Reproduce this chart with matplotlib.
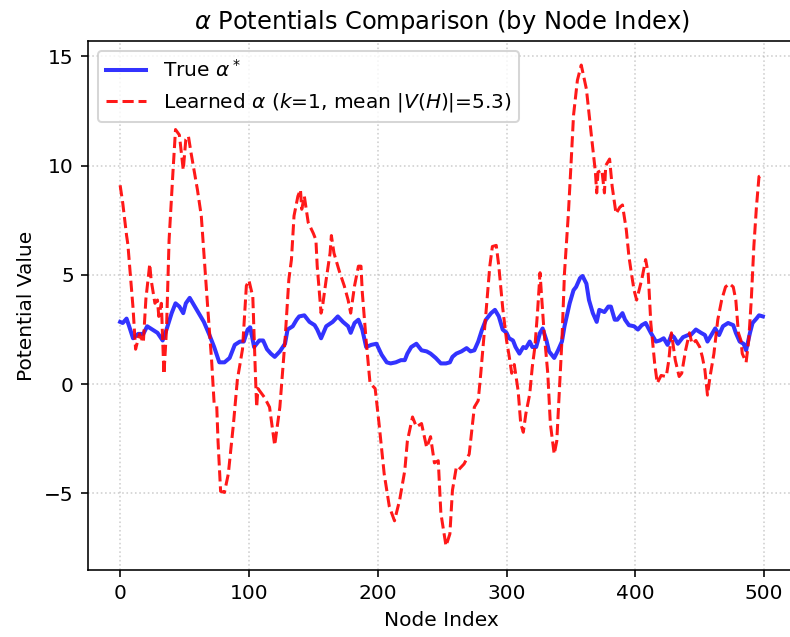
import numpy as np
import matplotlib
matplotlib.use('Agg')
import matplotlib.pyplot as plt

# Values (node index, potential)
true_idx = [0, 2, 5, 7, 10, 14, 18, 21, 25, 29, 33, 36, 40, 43, 46, 49, 51, 54, 58, 61,
            65, 69, 73, 77, 81, 85, 89, 93, 96, 99, 101, 104, 108, 111, 114, 117, 120, 124, 128, 130,
            134, 137, 139, 143, 147, 151, 153, 156, 160, 165, 169, 173, 177, 179, 182, 185, 188, 191, 195, 199,
            203, 207, 210, 214, 218, 221, 223, 226, 230, 234, 238, 241, 245, 249, 253, 256, 258, 261, 265, 269,
            272, 275, 278, 281, 284, 288, 291, 294, 297, 300, 302, 305, 307, 310, 313, 315, 318, 320, 323, 326,
            328, 331, 333, 337, 340, 343, 345, 349, 352, 354, 357, 359, 362, 364, 367, 370, 372, 376, 379, 381,
            384, 386, 390, 392, 395, 399, 402, 405, 408, 412, 416, 419, 422, 425, 428, 430, 433, 437, 441, 443,
            447, 451, 454, 456, 459, 462, 465, 468, 472, 476, 478, 481, 484, 486, 489, 491, 494, 496, 499]
true_val = [2.85, 2.8, 3.0, 2.65, 2.1, 2.3, 2.3, 2.65, 2.5, 2.35, 2.0, 2.5, 3.25, 3.7, 3.55, 3.25, 3.7, 3.95, 3.55, 3.25,
            2.85, 2.3, 1.7, 1.0, 1.0, 1.2, 1.8, 1.95, 1.95, 2.5, 2.6, 1.7, 2.0, 2.0, 1.6, 1.4, 1.25, 1.5, 1.85, 2.5,
            2.65, 2.95, 3.1, 3.15, 2.85, 2.7, 2.5, 2.1, 2.65, 2.85, 3.1, 2.85, 2.65, 2.35, 2.8, 2.95, 2.5, 1.7, 1.8, 1.85,
            1.35, 1.0, 0.95, 1.0, 1.1, 1.1, 1.4, 1.7, 1.85, 1.55, 1.5, 1.4, 1.2, 0.95, 0.95, 1.0, 1.25, 1.4, 1.5, 1.65,
            1.5, 1.55, 1.95, 2.5, 2.95, 3.25, 3.4, 3.1, 2.5, 2.35, 2.1, 2.0, 1.7, 1.4, 1.7, 1.65, 1.95, 1.7, 1.7, 2.35,
            2.55, 2.0, 1.5, 1.2, 1.55, 1.95, 2.65, 3.7, 4.3, 4.45, 4.85, 4.95, 4.6, 3.85, 3.25, 2.85, 3.4, 3.3, 3.55, 3.55,
            2.95, 2.95, 3.25, 2.95, 2.7, 2.65, 2.5, 2.7, 2.8, 2.35, 1.95, 2.0, 2.1, 1.8, 2.25, 2.15, 1.85, 2.15, 2.25, 2.25,
            2.5, 2.35, 2.25, 1.95, 2.25, 2.55, 2.25, 2.65, 2.8, 2.7, 2.35, 1.95, 1.85, 1.55, 2.35, 2.8, 3.0, 3.15, 3.1]

learned_idx = [0, 2, 5, 6, 10, 12, 15, 18, 20, 23, 24, 27, 29, 30, 32, 34, 36, 38, 41, 43,
               46, 49, 51, 53, 55, 60, 63, 65, 68, 71, 73, 75, 76, 78, 81, 84, 88, 91, 95, 98,
               100, 103, 105, 106, 107, 112, 116, 120, 124, 128, 131, 133, 135, 138, 140, 141, 143, 146, 150, 152,
               153, 156, 157, 160, 163, 164, 166, 170, 174, 177, 179, 182, 185, 187, 188, 191, 194, 198, 201, 205,
               209, 213, 217, 221, 223, 227, 230, 234, 238, 241, 244, 247, 249, 253, 256, 258, 261, 263, 267, 271,
               275, 278, 280, 284, 287, 289, 292, 294, 297, 300, 302, 304, 306, 309, 311, 313, 315, 318, 320, 322,
               324, 326, 327, 329, 332, 334, 337, 339, 341, 343, 345, 348, 350, 352, 355, 358, 362, 366, 369, 370,
               371, 374, 376, 377, 380, 382, 385, 388, 390, 393, 395, 397, 399, 401, 405, 408, 410, 412, 415, 417,
               420, 424, 426, 428, 431, 434, 436, 439, 442, 444, 447, 450, 452, 454, 456, 458, 461, 464, 467, 470,
               473, 476, 478, 480, 482, 483, 486, 488, 490, 492, 494, 496, 499]
learned_val = [9.1, 8.3, 6.8, 6.4, 3.5, 1.6, 2.3, 1.9, 3.9, 5.5, 4.8, 3.7, 3.85, 3.1, 3.7, 0.45, 2.5, 6.6, 9.7, 11.65,
               11.4, 9.8, 11.2, 11.35, 10.6, 8.9, 7.7, 6.0, 3.5, 1.1, -0.9, -1.0, -2.6, -4.9, -4.95, -4.1, -1.8, 0.2, 1.6, 4.5,
               4.75, 4.0, 0.5, -1.05, -0.2, -0.6, -1.05, -2.8, -1.05, 2.0, 4.8, 5.7, 7.7, 8.6, 8.9, 8.0, 8.6, 7.4, 6.9, 6.6,
               5.4, 3.25, 3.5, 4.8, 6.0, 6.8, 6.0, 5.2, 4.5, 3.85, 3.25, 4.5, 5.4, 5.4, 4.2, 2.0, 0.05, -0.2, -1.8, -4.1,
               -5.6, -6.25, -5.3, -3.95, -2.6, -1.5, -1.95, -1.8, -2.9, -2.4, -3.6, -3.5, -5.9, -7.4, -6.85, -4.85, -3.8, -3.9, -3.65, -3.2,
               -1.05, -0.75, 0.5, 3.25, 5.4, 6.3, 6.35, 5.4, 3.5, 2.0, 1.3, 0.5, 0.9, -0.3, -1.8, -2.2, -1.35, -0.45, 0.8, 1.7,
               3.25, 5.1, 4.2, 2.5, 0.5, -1.8, -3.2, -2.6, -0.3, 2.0, 5.1, 7.8, 10.0, 12.3, 13.9, 14.6, 13.5, 11.3, 9.7, 8.75,
               9.7, 9.8, 8.75, 10.0, 10.3, 9.05, 7.8, 8.1, 8.2, 7.05, 5.85, 5.05, 4.3, 3.85, 4.8, 5.7, 5.05, 2.8, 0.95, 0.05,
               0.4, 0.35, 1.1, 2.35, 1.1, 0.35, 0.5, 1.55, 2.35, 1.85, 2.0, 1.7, 1.25, 0.65, -0.5, 0.35, 1.4, 2.95, 3.85, 4.45,
               4.6, 4.45, 3.85, 2.35, 2.0, 1.4, 1.0, 2.0, 3.85, 6.3, 8.1, 9.5, 9.6]

title = r'$\alpha$ Potentials Comparison (by Node Index)'
true_label = r'True $\alpha^*$'
learned_label = r'Learned $\alpha$ ($k$=1, mean $|V(H)|$=5.3)'

dpi = 145
fig = plt.figure(figsize=(790 / dpi, 637 / dpi), dpi=dpi)
# right edge of the axes falls just past the picture edge, as in the reference
ax = fig.add_axes([88 / 790, 67 / 637, 707 / 790, 529 / 637])

ax.plot(true_idx, true_val, color='blue', linewidth=2, alpha=0.8, label=true_label)
ax.plot(learned_idx, learned_val, color='red', linestyle='--', linewidth=1.5, alpha=0.9, label=learned_label)

ax.set_title(title)
ax.set_xlabel('Node Index')
ax.set_ylabel('Potential Value')
ax.legend(loc='upper left')
ax.grid(True, linestyle=':', alpha=0.6)
ax.spines['right'].set_visible(False)

fig.savefig('out.png', dpi=dpi)
